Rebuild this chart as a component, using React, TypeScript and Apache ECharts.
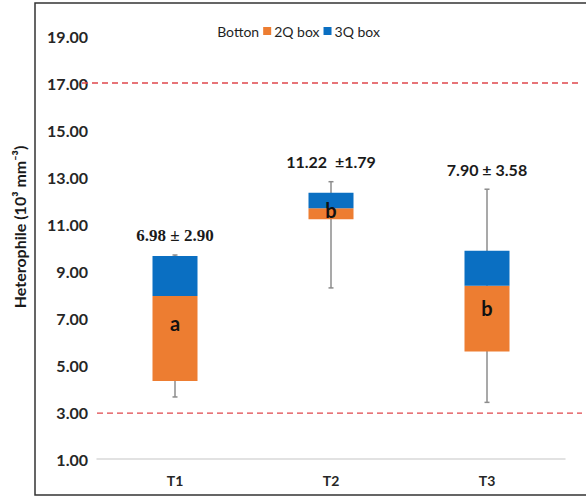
import React, { useEffect, useRef } from "react";
import * as echarts from "echarts";

const categories = ["T1", "T2", "T3"];
const q1 = [4.32, 11.2, 5.57];
const median = [7.94, 11.67, 8.37];
const q3 = [9.64, 12.33, 9.86];
const whiskerLow = [3.64, 8.28, 3.41];
const whiskerHigh = [9.68, 12.8, 12.48];
const meanLabels = ["6.98 ± 2.90", "11.22  ±1.79", "7.90 ± 3.58"];
const groupLetters = ["a", "b", "b"];
const letterValues = [6.79, 11.6, 7.43];
const refLines = [17, 2.95];
const yMin = 1;
const yMax = 19;
const yInterval = 2;

export default function App() {
  const ref = useRef<HTMLDivElement>(null);
  useEffect(() => {
    if (!ref.current) return;
    const chart = echarts.init(ref.current, null, { renderer: "svg" });
    const orange = "#ED7D31";
    const blue = "#0A6FC2";
    const bottom = q1;
    const second = q1.map((v, i) => +(median[i] - v).toFixed(3));
    const third = q3.map((v, i) => +(v - median[i]).toFixed(3));

    chart.setOption({
      animation: false,
      backgroundColor: "#ffffff",
      textStyle: { fontFamily: "Lato" },
      graphic: [
        {
          type: "rect",
          shape: { x: 35, y: 3, width: 570, height: 492 },
          style: { fill: "none", stroke: "#333333", lineWidth: 1.5 },
          z: -10,
        },
        {
          type: "text",
          x: 19,
          y: 227,
          rotation: Math.PI / 2,
          style: {
            text: "Heterophile (10³ mm⁻³)",
            fontFamily: "Lato",
            fontWeight: "bold",
            fontSize: 16,
            fill: "#1a1a1a",
            textAlign: "center",
            textVerticalAlign: "middle",
          },
        },
      ],
      legend: {
        data: ["Botton", "2Q box", "3Q box"],
        top: 19,
        left: "center",
        itemWidth: 8,
        itemHeight: 8,
        itemGap: 4,
        icon: "rect",
        textStyle: { fontFamily: "Lato", fontSize: 14, color: "#1f1f1f", padding: [0, 0, 0, -2] },
      },
      grid: { left: 97, right: 21, top: 36, bottom: 37, containLabel: false },
      xAxis: {
        type: "category",
        data: categories,
        axisLine: { lineStyle: { color: "#d9d9d9", width: 1.5 } },
        axisTick: { show: false },
        axisLabel: { fontFamily: "Lato", fontWeight: "bold", fontSize: 14, color: "#262626", margin: 14 },
      },
      yAxis: {
        type: "value",
        min: yMin,
        max: yMax,
        interval: yInterval,
        axisLine: { show: false },
        axisTick: { show: false },
        splitLine: { show: false },
        axisLabel: {
          fontFamily: "Lato",
          fontWeight: "bold",
          fontSize: 16,
          color: "#262626",
          margin: 9,
          formatter: (v: number) => v.toFixed(2),
        },
      },
      series: [
        {
          name: "refs",
          type: "custom",
          z: 1,
          clip: false,
          silent: true,
          data: refLines.map((v, i) => [0, v, i]),
          encode: { x: 0, y: 1 },
          renderItem: (params: any, api: any) => {
            const cs = params.coordSys;
            const y = api.coord([0, api.value(1)])[1];
            const startOffset = api.value(2) === 0 ? 15 : 0;
            return {
              type: "line",
              shape: { x1: cs.x - startOffset, y1: y, x2: cs.x + cs.width + 17, y2: y },
              style: { stroke: "#E0474C", lineWidth: 1.3, lineDash: [6, 4] },
            };
          },
        },
        {
          name: "whiskers",
          type: "custom",
          z: 2,
          silent: true,
          data: categories.map((_, i) => [i, whiskerLow[i], whiskerHigh[i]]),
          encode: { x: 0, y: [1, 2] },
          renderItem: (params: any, api: any) => {
            const x = api.value(0);
            const lo = api.coord([x, api.value(1)]);
            const hi = api.coord([x, api.value(2)]);
            const st = { stroke: "#8c8c8c", lineWidth: 1.5 };
            return {
              type: "group",
              children: [
                { type: "line", shape: { x1: lo[0], y1: lo[1], x2: hi[0], y2: hi[1] }, style: st },
                { type: "line", shape: { x1: lo[0] - 2.5, y1: lo[1], x2: lo[0] + 2.5, y2: lo[1] }, style: st },
                { type: "line", shape: { x1: hi[0] - 2.5, y1: hi[1], x2: hi[0] + 2.5, y2: hi[1] }, style: st },
              ],
            };
          },
        },
        {
          name: "Botton",
          type: "bar",
          stack: "box",
          z: 3,
          barWidth: 45,
          itemStyle: { color: "transparent" },
          data: bottom,
        },
        {
          name: "2Q box",
          type: "bar",
          stack: "box",
          z: 3,
          barWidth: 45,
          itemStyle: { color: orange },
          data: second,
        },
        {
          name: "3Q box",
          type: "bar",
          stack: "box",
          z: 3,
          barWidth: 45,
          itemStyle: { color: blue },
          data: third,
        },
        {
          name: "meanLabels",
          type: "custom",
          z: 5,
          silent: true,
          clip: false,
          data: categories.map((_, i) => [i, whiskerHigh[i]]),
          encode: { x: 0, y: 1 },
          renderItem: (params: any, api: any) => {
            const i = params.dataIndex;
            const p = api.coord([api.value(0), api.value(1)]);
            return {
              type: "text",
              x: p[0],
              y: p[1] - 20,
              style: {
                text: meanLabels[i],
                fontFamily: i === 0 ? "Liberation Serif" : "Lato",
                fontWeight: "bold",
                fontSize: i === 0 ? 17 : 16,
                fill: "#1a1a1a",
                textAlign: "center",
                textVerticalAlign: "middle",
              },
            };
          },
        },
        {
          name: "letters",
          type: "custom",
          z: 5,
          silent: true,
          data: categories.map((_, i) => [i, letterValues[i]]),
          encode: { x: 0, y: 1 },
          renderItem: (params: any, api: any) => {
            const i = params.dataIndex;
            const p = api.coord([api.value(0), api.value(1)]);
            return {
              type: "text",
              x: p[0],
              y: p[1],
              style: {
                text: groupLetters[i],
                fontFamily: "Lato",
                fontWeight: "bold",
                fontSize: 20,
                fill: "#111111",
                textAlign: "center",
                textVerticalAlign: "middle",
              },
            };
          },
        },
      ],
    });
    return () => chart.dispose();
  }, []);
  return (
    <div
      ref={ref}
      style={{ position: "fixed", left: 0, top: 0, width: 586, height: 496 }}
    />
  );
}
